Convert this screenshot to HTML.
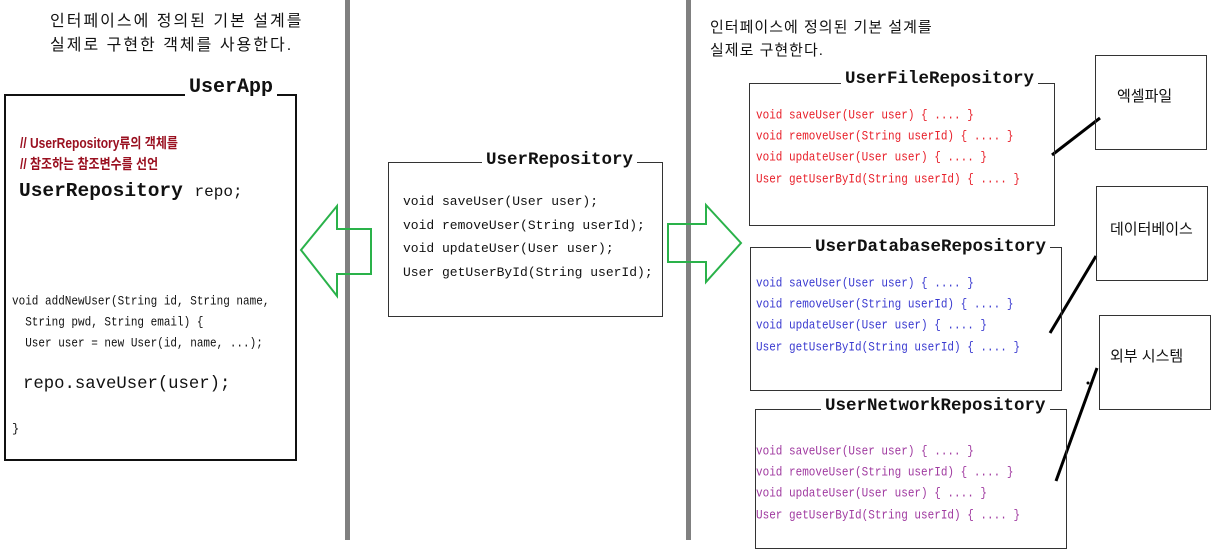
<!DOCTYPE html>
<html><head><meta charset="utf-8"><style>
body{margin:0;width:1221px;height:540px;background:#fff;position:relative;overflow:hidden;font-family:"Liberation Mono","Noto Sans CJK KR",monospace;}
.a{position:absolute;white-space:pre;line-height:1;}
.s{transform:scaleY(1.2);transform-origin:0 50%;}
.box{position:absolute;border:1px solid #333;box-sizing:border-box;}
.t{position:absolute;white-space:pre;background:#fff;font-weight:bold;line-height:1;padding:0 4px;color:#111;}
.k{font-family:"Liberation Sans","Noto Sans CJK KR",sans-serif;}
</style></head><body>
<div style="position:absolute;left:345px;top:0;width:5px;height:540px;background:#808080"></div>
<div style="position:absolute;left:686px;top:0;width:5px;height:540px;background:#808080"></div>

<div class="a k" style="left:50px;top:14px;font-size:16px;letter-spacing:2px;color:#111">인터페이스에 정의된 기본 설계를</div>
<div class="a k" style="left:50px;top:38px;font-size:16px;letter-spacing:2px;color:#111">실제로 구현한 객체를 사용한다.</div>

<div class="box" style="left:4px;top:94px;width:293px;height:367px;border:2px solid #111"></div>
<div class="t" style="left:185px;top:78px;font-size:20px">UserApp</div>
<div class="a k s" style="left:20px;top:137px;font-size:12px;color:#9a1020;font-weight:bold">// UserRepository류의 객체를</div>
<div class="a k s" style="left:20px;top:158px;font-size:12px;color:#9a1020;font-weight:bold">// 참조하는 참조변수를 선언</div>
<div class="a" style="left:19px;top:182px;font-size:19.5px;font-weight:bold;color:#111">UserRepository <span style="font-size:16px;font-weight:normal">repo;</span></div>
<div class="a s" style="left:12px;top:297px;font-size:11px;color:#111">void addNewUser(String id, String name,</div>
<div class="a s" style="left:12px;top:318px;font-size:11px;color:#111">  String pwd, String email) {</div>
<div class="a s" style="left:12px;top:339px;font-size:11px;color:#111">  User user = new User(id, name, ...);</div>
<div class="a" style="left:23px;top:376px;font-size:17.3px;color:#111">repo.saveUser(user);</div>
<div class="a" style="left:12px;top:423px;font-size:12px;color:#111">}</div>

<div class="box" style="left:388px;top:162px;width:275px;height:155px"></div>
<div class="t" style="left:482px;top:152px;font-size:17.5px">UserRepository</div>
<div class="a" style="left:403px;top:195px;font-size:13px;color:#111">void saveUser(User user);</div>
<div class="a" style="left:403px;top:219px;font-size:13px;color:#111">void removeUser(String userId);</div>
<div class="a" style="left:403px;top:242px;font-size:13px;color:#111">void updateUser(User user);</div>
<div class="a" style="left:403px;top:266px;font-size:13px;color:#111">User getUserById(String userId);</div>

<svg style="position:absolute;left:0;top:0" width="1221" height="540">
<polygon points="301,250 337,206 337,229 371,229 371,274 337,274 337,296" fill="none" stroke="#2ab24a" stroke-width="2"/>
<polygon points="668,224 706,224 706,205 741,243 706,282 706,262 668,262" fill="none" stroke="#2ab24a" stroke-width="2"/>
<line x1="1052" y1="155" x2="1100" y2="118" stroke="#000" stroke-width="3"/>
<line x1="1050" y1="333" x2="1096" y2="256" stroke="#000" stroke-width="3"/>
<line x1="1056" y1="481" x2="1097" y2="368" stroke="#000" stroke-width="3"/>
<circle cx="1088" cy="383" r="1.5" fill="#000"/>
</svg>

<div class="a k" style="left:710px;top:20px;font-size:15px;letter-spacing:1px;color:#111">인터페이스에 정의된 기본 설계를</div>
<div class="a k" style="left:710px;top:43px;font-size:15px;letter-spacing:1px;color:#111">실제로 구현한다.</div>

<div class="box" style="left:749px;top:83px;width:306px;height:143px"></div>
<div class="t" style="left:841px;top:71px;font-size:17.5px">UserFileRepository</div>
<div class="a s" style="left:756px;top:111px;font-size:11px;color:#e8202a">void saveUser(User user) { .... }</div>
<div class="a s" style="left:756px;top:132px;font-size:11px;color:#e8202a">void removeUser(String userId) { .... }</div>
<div class="a s" style="left:756px;top:153px;font-size:11px;color:#e8202a">void updateUser(User user) { .... }</div>
<div class="a s" style="left:756px;top:175px;font-size:11px;color:#e8202a">User getUserById(String userId) { .... }</div>

<div class="box" style="left:750px;top:247px;width:312px;height:144px"></div>
<div class="t" style="left:811px;top:239px;font-size:17.5px">UserDatabaseRepository</div>
<div class="a s" style="left:756px;top:279px;font-size:11px;color:#3a3ad0">void saveUser(User user) { .... }</div>
<div class="a s" style="left:756px;top:300px;font-size:11px;color:#3a3ad0">void removeUser(String userId) { .... }</div>
<div class="a s" style="left:756px;top:321px;font-size:11px;color:#3a3ad0">void updateUser(User user) { .... }</div>
<div class="a s" style="left:756px;top:343px;font-size:11px;color:#3a3ad0">User getUserById(String userId) { .... }</div>

<div class="box" style="left:755px;top:409px;width:312px;height:140px"></div>
<div class="t" style="left:821px;top:398px;font-size:17.5px">UserNetworkRepository</div>
<div class="a s" style="left:756px;top:447px;font-size:11px;color:#a03aa0">void saveUser(User user) { .... }</div>
<div class="a s" style="left:756px;top:468px;font-size:11px;color:#a03aa0">void removeUser(String userId) { .... }</div>
<div class="a s" style="left:756px;top:489px;font-size:11px;color:#a03aa0">void updateUser(User user) { .... }</div>
<div class="a s" style="left:756px;top:511px;font-size:11px;color:#a03aa0">User getUserById(String userId) { .... }</div>

<div class="box" style="left:1095px;top:55px;width:112px;height:95px"></div>
<div class="a k" style="left:1117px;top:89px;font-size:15px;color:#111">엑셀파일</div>
<div class="box" style="left:1096px;top:186px;width:112px;height:95px"></div>
<div class="a k" style="left:1110px;top:222px;font-size:15px;color:#111">데이터베이스</div>
<div class="box" style="left:1099px;top:315px;width:112px;height:95px"></div>
<div class="a k" style="left:1110px;top:349px;font-size:15px;color:#111">외부 시스템</div>
</body></html>
